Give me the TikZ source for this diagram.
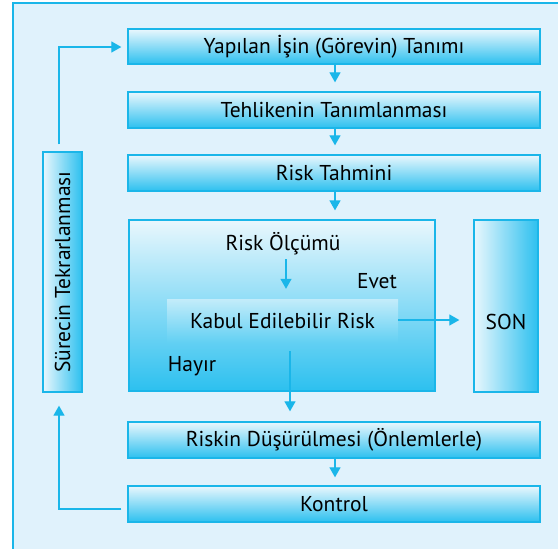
\documentclass[tikz,border=0pt]{standalone}
\usepackage{fontspec}
\setmainfont{PT Sans}
\usetikzlibrary{arrows.meta,calc}
\definecolor{panel}{HTML}{E0F2FC}
\definecolor{cyanline}{HTML}{1AB6E9}
\definecolor{boxlight}{HTML}{E9F7FD}
\definecolor{boxdark}{HTML}{2CC0EF}
\tikzset{
  x=1pt, y=-1pt,
  txt/.style={font=\fontsize{21.5}{24}\selectfont},
  flowbox/.style={draw=cyanline, line width=1.3pt, top color=boxlight, bottom color=boxdark,
    minimum width=412pt, minimum height=35pt, inner sep=0pt, txt},
  sidebox/.style={draw=cyanline, line width=1.3pt, left color=boxlight, right color=boxdark,
    inner sep=0pt, txt},
  plain/.style={inner sep=1pt, txt},
  arr/.style={draw=cyanline, line width=1.2pt, -{Triangle[length=10pt,width=11pt]}},
}
\begin{document}
\begin{tikzpicture}
\useasboundingbox (0,0) rectangle (558,549);
\fill[white] (0,0) rectangle (558,549);
\fill[panel] (13,3) rectangle (558,549);
\draw[cyanline, line width=1.2pt] (13,549) -- (13,3) -- (558,3);

\node[flowbox] (b1) at (334,46.5) {Yapılan İşin (Görevin) Tanımı};
\node[flowbox, minimum height=36pt] (b2) at (334,110) {Tehlikenin Tanımlanması};
\node[flowbox, minimum height=36pt] (b3) at (334,173) {Risk Tahmini};
\node[draw=cyanline, line width=1.2pt, top color=boxlight, bottom color=boxdark,
  minimum width=306pt, minimum height=171pt, inner sep=0pt] (big) at (282,305.5) {};
\node[top color=boxlight!80!boxdark, bottom color=boxdark!75!white,
  minimum width=231pt, minimum height=44pt, inner sep=0pt, txt] (kabul) at (282.5,321) {Kabul Edilebilir Risk};
\node[plain] (olcum) at (283,244) {Risk Ölçümü};
\node[plain] (evet) at (377,281) {Evet};
\node[plain] (hayir) at (192,366) {Hayır};
\node[sidebox, minimum width=64pt, minimum height=172pt] (son) at (506,306) {};
\node[plain] (sonlbl) at (506,322) {SON};
\node[flowbox, minimum height=36pt] (b4) at (334,440) {Riskin Düşürülmesi (Önlemlerle)};
\node[flowbox, minimum height=36pt] (b5) at (334,504) {Kontrol};
\node[sidebox, minimum width=39pt, minimum height=240pt] (sur) at (62.5,272) {\rotatebox{90}{Sürecin Tekrarlanması}};

\draw[arr] (b1.south -| 335,0) -- ($(b2.north -| 335,0)+(0,-9)$);
\draw[arr] (b2.south -| 335,0) -- ($(b3.north -| 335,0)+(0,-9)$);
\draw[arr] (b3.south -| 335,0) -- ($(big.north -| 335,0)+(0,-9)$);
\draw[arr] ($(olcum.south -| 286,0)+(0,3)$) -- ($(kabul.north -| 286,0)+(0,-10)$);
\draw[arr] (kabul.east |- 0,320) -- ($(son.west |- 0,320)+(-14,0)$);
\draw[arr] ($(kabul.south -| 290,0)+(0,8)$) -- ($(b4.north -| 290,0)+(0,-10)$);
\draw[arr] (b4.south -| 335,0) -- ($(b5.north -| 335,0)+(0,-8)$);
\coordinate (c1) at (59,509);
\coordinate (c2) at (59,47);
\draw[arr] ($(b5.west |- c1)+(-6,0)$) -- (c1) -- ($(sur.south -| c1)+(0,13)$);
\draw[arr] ($(sur.north -| c2)+(0,-7)$) -- (c2) -- ($(b1.west |- c2)+(-6,0)$);
\end{tikzpicture}
\end{document}
